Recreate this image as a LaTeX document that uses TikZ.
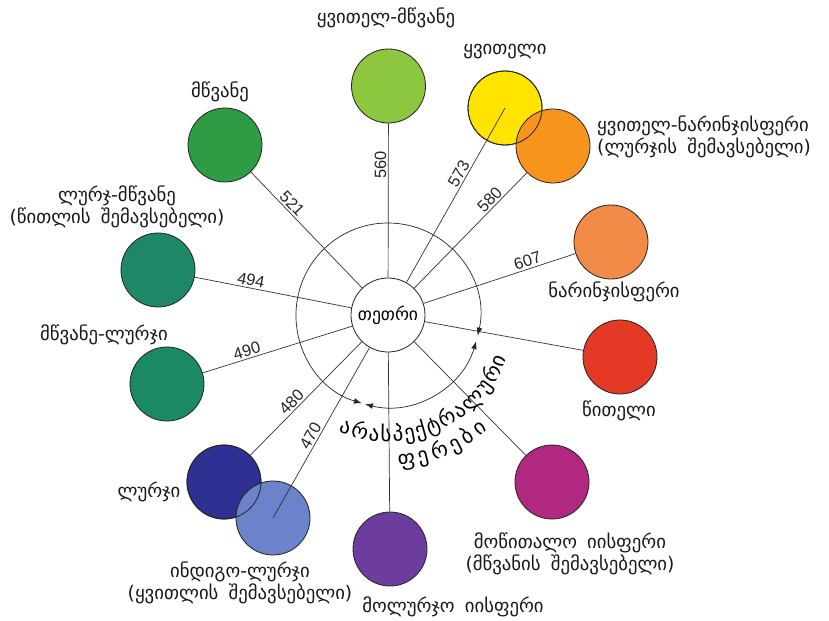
\documentclass[tikz,border=0pt]{standalone}
\usepackage{fontspec}
\setmainfont{DejaVu Sans}[WordSpace=1.7]
\newfontfamily\numfont{Liberation Sans}
\usetikzlibrary{arrows.meta, decorations.text}

\definecolor{cYGreen}{HTML}{8DC63F}
\definecolor{cYellow}{HTML}{FFE400}
\definecolor{cYOrange}{HTML}{F7941D}
\definecolor{cOrange}{HTML}{F28A48}
\definecolor{cRed}{HTML}{E43A25}
\definecolor{cMagenta}{HTML}{B0287F}
\definecolor{cViolet}{HTML}{6C3C9F}
\definecolor{cIndigo}{HTML}{6C82CB}
\definecolor{cBlue}{HTML}{2E3192}
\definecolor{cGBlue}{HTML}{1B8866}
\definecolor{cBGreen}{HTML}{1E8768}
\definecolor{cGreen}{HTML}{2E9C45}

\begin{document}
\begin{tikzpicture}[x=0.03cm, y=-0.03cm,
    disc/.style={circle, draw=black!85, line width=0.7pt, minimum size=2.22cm, inner sep=0pt},
    lbl/.style={font=\fontsize{16}{18.5}\selectfont, align=center, inner sep=0pt, text=black!90},
    num/.style={font=\numfont\fontsize{14}{16}\selectfont, sloped, above, inner sep=1.5pt, text=black!85},
    ray/.style={line width=0.6pt, black!80},
    tip/.style={line width=0.6pt, black!85, {Latex[length=2.4mm,width=1.7mm]}-{Latex[length=2.4mm,width=1.7mm]}}]
    \useasboundingbox (0,0) rectangle (829,621);

    % centre and the colour discs
    \node[disc, fill=white, font=\fontsize{15}{17}\selectfont] (white) at (388,315) {თეთრი};
    \node[disc, fill=cYGreen] (ygreen) at (388.5,86) {};
    \node[disc, fill=cYellow] (yellow) at (505,108) {};
    \node[disc, fill=cYOrange] (yorange) at (553,146) {};
    \draw[black!85, line width=0.7pt] (yellow.center) circle[radius=1.11cm];
    \node[disc, fill=cOrange] (orange) at (611,242) {};
    \node[disc, fill=cRed] (red) at (620,357) {};
    \node[disc, fill=cMagenta] (magenta) at (552,482) {};
    \node[disc, fill=cViolet] (violet) at (390,549) {};
    \node[disc, fill=cBlue] (blue) at (224,482) {};
    \node[disc, fill=cIndigo] (indigo) at (273,518) {};
    \draw[black!85, line width=0.7pt] (blue.center) circle[radius=1.11cm];
    \node[disc, fill=cGBlue] (gblue) at (167,384) {};
    \node[disc, fill=cBGreen] (bgreen) at (158,270) {};
    \node[disc, fill=cGreen] (green) at (225,145) {};

    % rays with wavelengths
    \draw[ray] (white) -- node[num, pos=0.73] {560} (ygreen);
    \draw[ray] (white) -- node[num, pos=0.60] {573} (yellow.center);
    \draw[ray] (white) -- node[num, pos=0.72] {580} (yorange);
    \draw[ray] (white) -- node[num, pos=0.70] {607} (orange);
    \draw[ray] (white) -- (red);
    \draw[ray] (white) -- (magenta);
    \draw[ray] (white) -- (violet);
    \draw[ray] (white) -- node[num, pos=0.54] {470} (indigo.center);
    \draw[ray] (white) -- node[num, pos=0.58] {480} (blue);
    \draw[ray] (white) -- node[num, pos=0.69] {490} (gblue);
    \draw[ray] (white) -- node[num, pos=0.65] {494} (bgreen);
    \draw[ray] (white) -- node[num, pos=0.68] {521} (green);

    % ring with the non-spectral range
    \draw[tip] ([shift={(-13:2.76cm)}]white.center) arc[start angle=-13, end angle=253.5, radius=2.76cm];
    \draw[tip] ([shift={(-16.5:2.76cm)}]white.center) arc[start angle=-16.5, end angle=-104.5, radius=2.76cm];
    \path[decorate, decoration={text along path, text align=fit to path,
        text={|\fontsize{18}{20}\selectfont|არასპექტრალური}}]
        ([shift={(-113:3.8cm)}]white.center) arc[start angle=-113, end angle=-20, radius=3.8cm];
    \path[decorate, decoration={text along path, text align=fit to path,
        text={|\fontsize{18}{20}\selectfont|ფერები}}]
        ([shift={(-86:4.56cm)}]white.center) arc[start angle=-86, end angle=-49, radius=4.56cm];

    % colour names
    \node[lbl] (tygreen) at (386,18) {ყვითელ-მწვანე};
    \node[lbl] (tyellow) at (505,52) {ყვითელი};
    \node[lbl, anchor=west, align=left] (tyorange) at (597,137) {ყვითელ-ნარინჯისფერი\\(ლურჯის შემავსებელი)};
    \node[lbl] (torange) at (614,292) {ნარინჯისფერი};
    \node[lbl] (tred) at (619,411) {წითელი};
    \node[lbl] (tmagenta) at (570,554) {მოწითალო იისფერი\\(მწვანის შემავსებელი)};
    \node[lbl] (tviolet) at (453,607) {მოლურჯო იისფერი};
    \node[lbl] (tindigo) at (240,583) {ინდიგო-ლურჯი\\(ყვითლის შემავსებელი)};
    \node[lbl] (tblue) at (149,492) {ლურჯი};
    \node[lbl] (tgblue) at (104,335) {მწვანე-ლურჯი};
    \node[lbl] (tbgreen) at (117,207) {ლურჯ-მწვანე\\(წითლის შემავსებელი)};
    \node[lbl] (tgreen) at (220,92) {მწვანე};
\end{tikzpicture}
\end{document}
